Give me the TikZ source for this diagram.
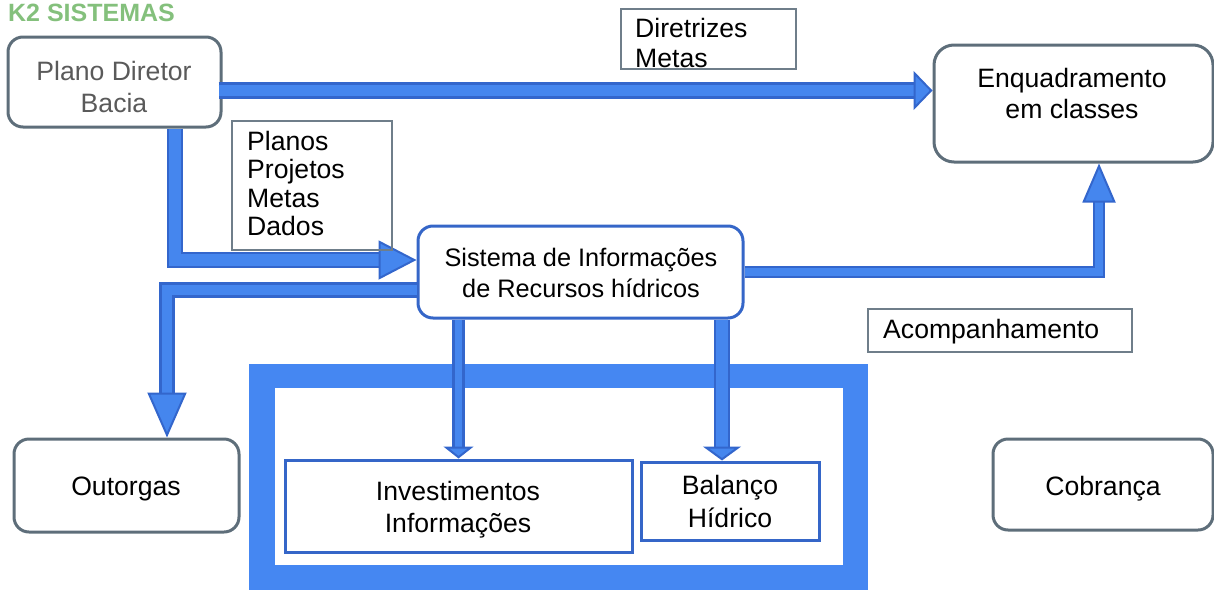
\documentclass[tikz,border=0pt]{standalone}
\usepackage{fontspec}
\setmainfont{Liberation Sans}
\usetikzlibrary{arrows.meta,calc}
\definecolor{alight}{HTML}{4586EE}
\definecolor{adark}{HTML}{3366CC}
\definecolor{framec}{HTML}{4587F2}
\definecolor{grayline}{HTML}{5E6E7A}
\definecolor{tboxline}{HTML}{6F7E8A}
\definecolor{boxblue}{HTML}{3566C8}
\definecolor{ktwo}{HTML}{84C07C}
\definecolor{plantext}{HTML}{5A5A5A}
\tikzset{
  txt/.style={font=\fontsize{26.6}{31}\selectfont, inner sep=0pt, anchor=base},
  txtl/.style={txt, anchor=base west},
  rbox/.style={draw=grayline, line width=3pt, rounded corners=15pt, fill=white, inner sep=0pt},
  sbox/.style={draw=boxblue, line width=3pt, rounded corners=15pt, fill=white, inner sep=0pt},
  tbox/.style={draw=tboxline, line width=2pt, inner sep=0pt},
  bbox/.style={draw=boxblue, line width=3pt, fill=white, inner sep=0pt},
  bshaft/.style={draw=adark, line width=2.4pt, double=alight, double distance=#1},
  bshaft/.default=11.5pt,
  bhead/.style 2 args={draw=alight, line width=0.1pt, -{Triangle[length=#1, width=#2, line width=2pt, fill=alight, color=adark]}},
}
\begin{document}
\begin{tikzpicture}[x=1pt,y=-1pt]
\useasboundingbox (0,0) rectangle (1214,589);
% frame
\fill[framec] (249,364) rectangle (868,600);
\fill[white] (275,388) rectangle (843,565);

% boxes
\node[rbox, minimum width=213pt, minimum height=90pt] (plano) at (114.5,82) {};
\node[rbox, rounded corners=20pt, minimum width=279pt, minimum height=117pt] (enq) at (1073.5,103.5) {};
\node[sbox, minimum width=325pt, minimum height=92pt] (sis) at (580.5,272) {};
\node[rbox, minimum width=225pt, minimum height=93pt] (out) at (126.5,485.5) {};
\node[rbox, minimum width=220pt, minimum height=91pt] (cob) at (1103,484.5) {};
\node[bbox, minimum width=347pt, minimum height=92pt] (inv) at (458.5,506) {};
\node[bbox, minimum width=178pt, minimum height=78pt] (bal) at (730,501) {};
\node[tbox, minimum width=264pt, minimum height=43pt] (acomp) at (1000,330.5) {};

% arrows
% 1 plano -> enq
\coordinate (a1s) at ($(plano.east)+(-4,8.5)$);
\coordinate (a1t) at (enq.west |- a1s);
\coordinate (a1b) at ($(a1t)+(-19,0)$);
\draw[bshaft] (a1s) -- ($(a1b)+(2,0)$);
\draw[bhead={19pt}{39pt}] (a1b) -- (a1t);
% 2 plano -> sis
\coordinate (a2s) at ($(plano.south)+(60.5,0)$);
\coordinate (a2t) at ($(sis.west)+(0,-12)$);
\coordinate (a2b) at ($(a2t)+(-38,0)$);
\draw[bshaft] (a2s) |- ($(a2b)+(2,0)$);
\draw[bhead={38pt}{39pt}] (a2b) -- (a2t);
% 3 sis -> out
\coordinate (a3s) at ($(sis.west)+(0,18)$);
\coordinate (a3t) at ($(out.north)+(40.5,0)$);
\coordinate (a3b) at ($(a3t)+(0,-45)$);
\draw[bshaft=10.5pt] (a3s) -| ($(a3b)+(0,2)$);
\draw[bhead={45pt}{39pt}] (a3b) -- (a3t);
% 4 sis -> inv
\coordinate (a4t) at (inv.north);
\coordinate (a4s) at (a4t |- sis.south);
\coordinate (a4b) at ($(a4t)+(0,-12)$);
\draw[bshaft=7.5pt] (a4s) -- ($(a4b)+(0,2)$);
\draw[bhead={12pt}{30pt}] (a4b) -- (a4t);
% 5 sis -> bal
\coordinate (a5t) at ($(bal.north)+(-8,0)$);
\coordinate (a5s) at (a5t |- sis.south);
\coordinate (a5b) at ($(a5t)+(0,-14)$);
\draw[bshaft] (a5s) -- ($(a5b)+(0,2)$);
\draw[bhead={14pt}{38pt}] (a5b) -- (a5t);
% 6 sis -> enq
\coordinate (a6s) at (sis.east);
\coordinate (a6t) at ($(enq.south)+(25.5,0)$);
\coordinate (a6b) at ($(a6t)+(0,39)$);
\draw[bshaft=7.5pt] (a6s) -| ($(a6b)+(0,-2)$);
\draw[bhead={39pt}{33pt}] (a6b) -- (a6t);

% text boxes on top
\node[tbox, minimum width=175pt, minimum height=60pt] (dir) at (708.5,39) {};
\node[tbox, minimum width=160pt, minimum height=129pt] (plan) at (312,185.5) {};

% texts
\node[txt, anchor=base west, font=\fontsize{25}{29}\selectfont\bfseries, text=ktwo] (k2) at (8,21) {K2 SISTEMAS};
\node[txt, text=plantext] (t1) at (114,80) {Plano Diretor};
\node[txt, text=plantext] (t2) at (114,112) {Bacia};
\node[txtl] (t3) at (635,37) {Diretrizes};
\node[txtl] (t4) at (635,67) {Metas};
\node[txt] (t5) at (1072,87) {Enquadramento};
\node[txt] (t6) at (1072,118) {em classes};
\node[txtl] (t7) at (247,150) {Planos};
\node[txtl] (t8) at (247,178.5) {Projetos};
\node[txtl] (t9) at (247,207) {Metas};
\node[txtl] (t10) at (247,235.5) {Dados};
\node[txt, font=\fontsize{25.3}{31}\selectfont] (t11) at (581,266) {Sistema de Informações};
\node[txt, font=\fontsize{25.3}{31}\selectfont] (t12) at (581,297) {de Recursos hídricos};
\node[txtl] (t13) at (883,338) {Acompanhamento};
\node[txt] (t14) at (126,495) {Outorgas};
\node[txt] (t15) at (458,500) {Investimentos};
\node[txt] (t16) at (458,532) {Informações};
\node[txt] (t17) at (730,494) {Balanço};
\node[txt] (t18) at (730,527) {Hídrico};
\node[txt] (t19) at (1103,495) {Cobrança};
\end{tikzpicture}
\end{document}
